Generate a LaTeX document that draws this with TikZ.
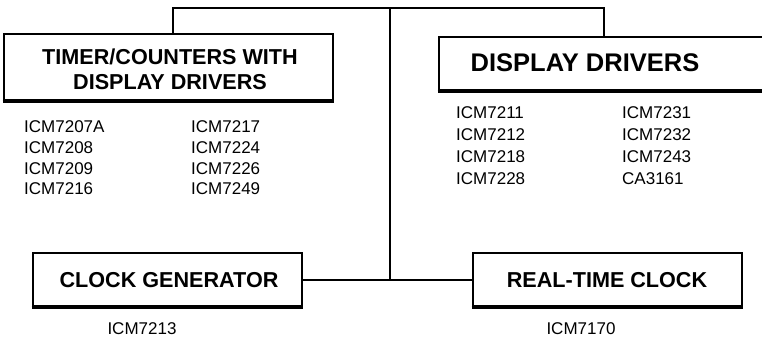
\documentclass[tikz,border=0pt]{standalone}
\usepackage{fontspec}
\setmainfont{Liberation Sans}
\begin{document}
\begin{tikzpicture}[x=1pt,y=-1pt,
  catbox/.style={draw,line width=2.9pt,inner sep=0pt},
  head/.style={font=\fontsize{21.6}{25}\selectfont\bfseries,align=center,inner sep=0pt},
  bighead/.style={font=\fontsize{25.5}{30}\selectfont\bfseries,inner sep=0pt},
  item/.style={font=\fontsize{17}{20}\selectfont,anchor=west,inner sep=0pt,text height=12.2pt,text depth=0pt},
  citem/.style={font=\fontsize{17}{20}\selectfont,inner sep=0pt,text height=12.2pt,text depth=0pt},
  wire/.style={line width=2pt}]
\clip (0,0) rectangle (762,337);
\fill[white] (0,0) rectangle (762,337);
% boxes
\node[catbox,minimum width=329pt,minimum height=66pt] (tc) at (168.5,67) {};
\node[head] (tct) at (170,69.5) {TIMER/COUNTERS WITH\\DISPLAY DRIVERS};
\node[catbox,minimum width=336pt,minimum height=53pt] (dd) at (607,63.5) {};
\node[bighead] (ddt) at (585,63) {DISPLAY DRIVERS};
\node[catbox,minimum width=269pt,minimum height=53pt] (cg) at (167.5,279.5) {};
\node[head] (cgt) at (169,280) {CLOCK GENERATOR};
\node[catbox,minimum width=269pt,minimum height=53pt] (rt) at (607.5,279.5) {};
\node[head] (rtt) at (607,280) {REAL-TIME CLOCK};
% extra weight on bottom edges
\draw[line width=3.8pt] (tc.south west) -- (tc.south east);
\draw[line width=3.8pt] (dd.south west) -- (dd.south east);
\draw[line width=3.8pt] (cg.south west) -- (cg.south east);
\draw[line width=3.8pt] (rt.south west) -- (rt.south east);
% connectors
\coordinate (tl) at (173,8.5);
\coordinate (tr) at (604,8.5);
\coordinate (mt) at (390,8.5);
\coordinate (mb) at (390,279.5);
\draw[wire] (tc.north -| tl) -- (tl) -- (tr) -- (dd.north -| tr);
\draw[wire] (mt) -- (mb);
\draw[wire] (cg.east) -- (rt.west);
% timer list
\node[item] (a1) at (24,126) {ICM7207A};
\node[item] (a2) at (24,147) {ICM7208};
\node[item] (a3) at (24,168) {ICM7209};
\node[item] (a4) at (24,188.5) {ICM7216};
\node[item] (b1) at (191,126) {ICM7217};
\node[item] (b2) at (191,147) {ICM7224};
\node[item] (b3) at (191,168) {ICM7226};
\node[item] (b4) at (191,188.5) {ICM7249};
% display list
\node[item] (c1) at (456,112) {ICM7211};
\node[item] (c2) at (456,134) {ICM7212};
\node[item] (c3) at (456,156) {ICM7218};
\node[item] (c4) at (456,178) {ICM7228};
\node[item] (d1) at (622,112) {ICM7231};
\node[item] (d2) at (622,134) {ICM7232};
\node[item] (d3) at (622,156) {ICM7243};
\node[item] (d4) at (622,178) {CA3161};
% single items
\node[citem] (e1) at (142,328) {ICM7213};
\node[citem] (e2) at (581,328) {ICM7170};
\end{tikzpicture}
\end{document}
